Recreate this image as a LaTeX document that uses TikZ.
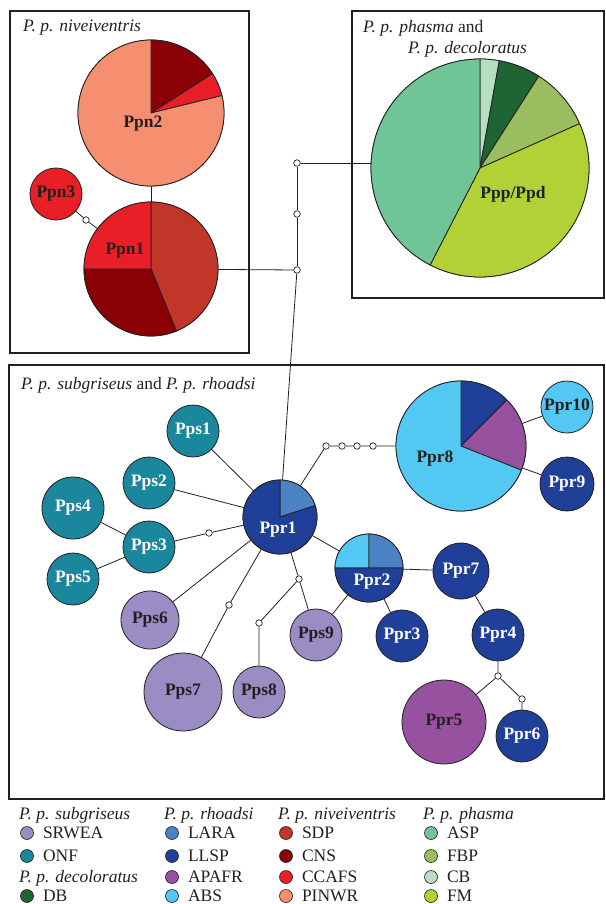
\documentclass[tikz,border=0pt]{standalone}
\usepackage{fontspec}
\setmainfont{Liberation Serif}
\usepackage{xcolor}
\usetikzlibrary{positioning}
\definecolor{ink}{HTML}{231F20}
\definecolor{srwea}{HTML}{9B8DC4}
\definecolor{onf}{HTML}{1A879C}
\definecolor{db}{HTML}{1F6433}
\definecolor{lara}{HTML}{4A82C3}
\definecolor{llsp}{HTML}{1F3F98}
\definecolor{apafr}{HTML}{96519F}
\definecolor{abs}{HTML}{52C8F2}
\definecolor{sdp}{HTML}{C0372A}
\definecolor{cns}{HTML}{8A0006}
\definecolor{ccafs}{HTML}{E91E27}
\definecolor{pinwr}{HTML}{F58F6F}
\definecolor{asp}{HTML}{70C596}
\definecolor{fbp}{HTML}{9ABE5F}
\definecolor{cb}{HTML}{B4DFC0}
\definecolor{fm}{HTML}{B1D136}
\begin{document}
\begin{tikzpicture}[x=1pt,y=1pt,
hap/.style={circle,draw=ink,line width=.8pt,inner sep=0pt,font=\fontsize{17.5}{18}\selectfont\bfseries,text=ink},wt/.style={text=white},
sect/.style={draw=ink,line width=.8pt,line join=round},lbl/.style={inner sep=0pt,font=\fontsize{17.5}{18}\selectfont\bfseries,text=ink},
dot/.style={circle,draw=ink,fill=white,line width=.7pt,minimum size=6.5pt,inner sep=0pt},ln/.style={draw=ink,line width=.8pt},
frame/.style={draw=ink,line width=1.1pt},ttl/.style={inner sep=0pt,anchor=base west,font=\fontsize{17.5}{20}\selectfont,text=ink},
key/.style={circle,draw=ink,line width=.6pt,minimum size=13pt,inner sep=0pt},ktext/.style={inner sep=0pt,text height=11.6pt,text depth=0pt,font=\fontsize{17.5}{20}\selectfont,text=ink}]
\useasboundingbox (0,0) rectangle (605,-904);
\draw[frame] (10,-11) rectangle (249,-353); \draw[frame] (352,-11) rectangle (604,-298); \draw[frame] (9,-365) rectangle (604,-799);
\node[ttl] (t-niv) at (23,-32) {\itshape P. p. niveiventris};
\node[ttl] (t-pha) at (363,-33) {\textit{P. p. phasma} and};
\node[ttl] (t-dec) at (408,-54) {\itshape P. p. decoloratus};
\node[ttl] (t-sub) at (21,-389) {\textit{P. p. subgriseus} and \textit{P. p. rhoadsi}};
\node[hap,minimum size=146pt] (ppn2) at (151,-113) {};
\node[hap,minimum size=134pt] (ppn1) at (151,-269) {};
\node[hap,minimum size=218pt] (ppp) at (480,-168) {};
\node[hap,minimum size=74pt] (ppr1) at (280,-517) {};
\node[hap,minimum size=68pt] (ppr2) at (369,-568) {};
\node[hap,minimum size=130pt] (ppr8) at (461,-446) {};
\foreach \a/\b/\c in {32.6/90/cns,13.8/32.6/ccafs,90/373.8/pinwr} \filldraw[sect,fill=\c] (ppn2.center) -- ++(\a:73) arc[start angle=\a,end angle=\b,radius=73] -- cycle;
\foreach \a/\b/\c in {-67.7/90/sdp,180/292.3/cns,90/180/ccafs} \filldraw[sect,fill=\c] (ppn1.center) -- ++(\a:67) arc[start angle=\a,end angle=\b,radius=67] -- cycle;
\foreach \a/\b/\c in {79.8/90/cb,57.4/79.8/db,24/57.4/fbp,-117.2/24/fm,90/242.8/asp} \filldraw[sect,fill=\c] (ppp.center) -- ++(\a:109) arc[start angle=\a,end angle=\b,radius=109] -- cycle;
\foreach \a/\b/\c in {17.9/90/lara,90/377.9/llsp} \filldraw[sect,fill=\c] (ppr1.center) -- ++(\a:37) arc[start angle=\a,end angle=\b,radius=37] -- cycle;
\foreach \a/\b/\c in {90/180/abs,0/90/lara,180/360/llsp} \filldraw[sect,fill=\c] (ppr2.center) -- ++(\a:34) arc[start angle=\a,end angle=\b,radius=34] -- cycle;
\foreach \a/\b/\c in {45.2/90/llsp,-21.8/45.2/apafr,90/338.2/abs} \filldraw[sect,fill=\c] (ppr8.center) -- ++(\a:65) arc[start angle=\a,end angle=\b,radius=65] -- cycle;
\node[lbl] (ppn2-l) at (143,-124) {Ppn2};
\node[lbl] (ppn1-l) at (125,-251) {Ppn1};
\node[lbl] (ppp-l) at (513,-194) {Ppp/Ppd};
\node[lbl,wt] (ppr1-l) at (278,-530) {Ppr1};
\node[lbl,wt] (ppr2-l) at (372,-582) {Ppr2};
\node[lbl] (ppr8-l) at (435,-459) {Ppr8};
\node[hap,fill=ccafs,minimum size=52pt] (ppn3) at (56,-194) {Ppn3};
\node[hap,wt,fill=onf,minimum size=52pt] (pps1) at (193,-431) {Pps1};
\node[hap,wt,fill=onf,minimum size=52pt] (pps2) at (149,-483) {Pps2};
\node[hap,wt,fill=onf,minimum size=52pt] (pps3) at (149,-547) {Pps3};
\node[hap,wt,fill=onf,minimum size=62pt] (pps4) at (73,-508) {Pps4};
\node[hap,wt,fill=onf,minimum size=52pt] (pps5) at (73,-579) {Pps5};
\node[hap,fill=srwea,minimum size=58pt] (pps6) at (150,-620) {Pps6};
\node[hap,fill=srwea,minimum size=78pt] (pps7) at (183,-692) {Pps7};
\node[hap,fill=srwea,minimum size=52pt] (pps8) at (259,-692) {Pps8};
\node[hap,fill=srwea,minimum size=52pt] (pps9) at (316,-635) {Pps9};
\node[hap,wt,fill=llsp,minimum size=52pt] (ppr3) at (402,-636) {Ppr3};
\node[hap,wt,fill=llsp,minimum size=52pt] (ppr4) at (498,-635) {Ppr4};
\node[hap,fill=apafr,minimum size=84pt] (ppr5) at (444,-722) {Ppr5};
\node[hap,wt,fill=llsp,minimum size=52pt] (ppr6) at (522,-736) {Ppr6};
\node[hap,wt,fill=llsp,minimum size=56pt] (ppr7) at (461,-571) {Ppr7};
\node[hap,wt,fill=llsp,minimum size=54pt] (ppr9) at (567,-484) {Ppr9};
\node[hap,fill=abs,minimum size=52pt] (ppr10) at (567,-407) {Ppr10};
\node[dot] (d1) at (86,-220) {};
\node[dot] (j1) at (297,-163) {};
\node[dot] (j2) at (297,-214) {};
\node[dot] (j3) at (297,-270) {};
\node[dot] (d2) at (209,-533) {};
\node[dot] (d3) at (229,-605) {};
\node[dot] (d4) at (299,-579) {};
\node[dot] (d5) at (259,-623) {};
\node[dot] (d6) at (326,-446) {};
\node[dot] (d7) at (342,-446) {};
\node[dot] (d8) at (357,-446) {};
\node[dot] (d9) at (373,-446) {};
\node[dot] (d10) at (498,-676) {};
\node[dot] (d11) at (522,-699) {};
\draw[ln] (ppn3)--(d1)--(ppn1); \draw[ln] (ppn2)--(ppn1); \draw[ln] (ppn1)--(j3); \draw[ln] (j3)--(j2)--(j1); \draw[ln] (j1)--(j1-|ppp.west); \draw[ln] (j3)--(ppr1);
\draw[ln] (pps1)--(ppr1); \draw[ln] (pps2)--(ppr1); \draw[ln] (pps4)--(pps3); \draw[ln] (pps5)--(pps3); \draw[ln] (pps3)--(d2)--(ppr1); \draw[ln] (pps6)--(ppr1);
\draw[ln] (ppr1)--(d3)--(pps7); \draw[ln] (ppr1)--(d4)--(pps9); \draw[ln] (d4)--(d5)--(pps8); \draw[ln] (ppr1)--(ppr2); \draw[ln] (ppr2)--(pps9); \draw[ln] (ppr2)--(ppr3);
\draw[ln] (ppr2)--(ppr7); \draw[ln] (ppr7)--(ppr4); \draw[ln] (ppr4)--(d10)--(ppr5); \draw[ln] (d10)--(d11)--(ppr6);
\draw[ln] (ppr1)--(d6)--(d7)--(d8)--(d9)--(ppr8); \draw[ln] (ppr8)--(ppr10); \draw[ln] (ppr8)--(ppr9);
\node[ttl] (h-sub) at (19,-819) {\itshape P. p. subgriseus};
\node[ttl] (h-rho) at (164,-819) {\itshape P. p. rhoadsi};
\node[ttl] (h-niv) at (278,-819) {\itshape P. p. niveiventris};
\node[ttl] (h-pha) at (423,-819) {\itshape P. p. phasma};
\node[ttl] (h-dec) at (19,-882) {\itshape P. p. decoloratus};
\foreach \c/\t/\x/\y in {srwea/SRWEA/27/833,onf/ONF/27/856,db/DB/27/896,lara/LARA/172/833,llsp/LLSP/172/856,apafr/APAFR/172/877,abs/ABS/172/896,sdp/SDP/286/833,cns/CNS/286/856,ccafs/CCAFS/286/877,pinwr/PINWR/286/896,asp/ASP/431/833,fbp/FBP/431/856,cb/CB/431/877,fm/FM/431/896}
{\node[key,fill=\c] (k-\c) at (\x,-\y) {}; \node[ktext,right=9pt of k-\c] (l-\c) {\t};}
\end{tikzpicture}
\end{document}
